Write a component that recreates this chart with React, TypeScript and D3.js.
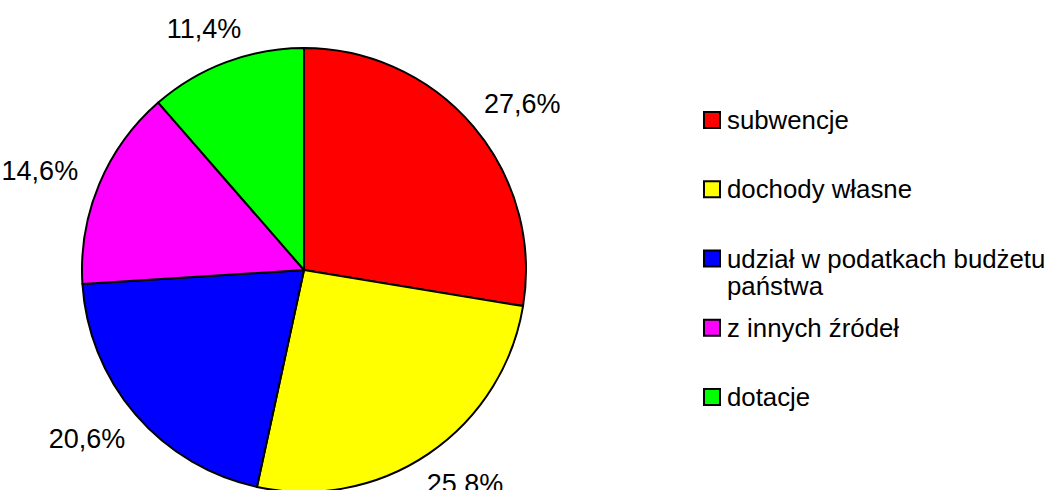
import { useEffect, useRef } from "react";
import * as d3 from "d3";

const categories = ["subwencje", "dochody własne", "udział w podatkach budżetu państwa", "z innych źródeł", "dotacje"];
const legendLines = [["subwencje"], ["dochody własne"], ["udział w podatkach budżetu", "państwa"], ["z innych źródeł"], ["dotacje"]];
const values = [27.6, 25.8, 20.6, 14.6, 11.4];
const labels = ["27,6%", "25,8%", "20,6%", "14,6%", "11,4%"];
const colors = ["#ff0000", "#ffff00", "#0000ff", "#ff00ff", "#00ff00"];

export default function App() {
  const ref = useRef<HTMLDivElement>(null);

  useEffect(() => {
    const container = d3.select(ref.current);
    container.selectAll("*").remove();

    const width = 1048;
    const height = 490;
    const cx = 304;
    const cy = 270;
    const r = 222;
    const labelR = 248;
    const font = "'Liberation Sans', Arial, sans-serif";

    const svg = container
      .append("svg")
      .attr("width", width)
      .attr("height", height)
      .style("position", "absolute")
      .style("left", "0px")
      .style("top", "0px")
      .style("background", "#fff");

    const pie = d3.pie<number>().sort(null).value((d) => d);
    const arcs = pie(values);
    const arc = d3.arc<d3.PieArcDatum<number>>().innerRadius(0).outerRadius(r);

    const g = svg.append("g").attr("transform", `translate(${cx},${cy})`);
    g.selectAll("path")
      .data(arcs)
      .join("path")
      .attr("d", arc)
      .attr("fill", (_, i) => colors[i])
      .attr("stroke", "#000")
      .attr("stroke-width", 2)
      .attr("stroke-linejoin", "round");

    // labels: anchor point just outside the pie, text box pushed outward
    g.selectAll("text")
      .data(arcs)
      .join("text")
      .attr("text-anchor", "middle")
      .attr("dy", "0.35em")
      .attr("font-family", font)
      .attr("font-size", 27)
      .attr("fill", "#000")
      .text((_, i) => labels[i])
      .each(function (d) {
        const el = this as SVGTextElement;
        const w = el.getComputedTextLength();
        const h = 20;
        const a = (d.startAngle + d.endAngle) / 2;
        const sx = Math.sin(a);
        const sy = -Math.cos(a);
        const x = sx * labelR + (sx * w) / 2;
        const y = sy * labelR + (sy * h) / 2;
        d3.select(el).attr("x", x).attr("y", y);
      });

    const legendY = d3.scalePoint<string>().domain(categories).range([129, 406]);
    const leg = svg.append("g");
    categories.forEach((c, i) => {
      const base = legendY(c)!;
      leg
        .append("rect")
        .attr("x", 704)
        .attr("y", base - 17)
        .attr("width", 16)
        .attr("height", 16)
        .attr("fill", colors[i])
        .attr("stroke", "#000")
        .attr("stroke-width", 2);
      const t = leg
        .append("text")
        .attr("x", 727)
        .attr("y", base)
        .attr("font-family", font)
        .attr("font-size", 25.8)
        .attr("fill", "#000");
      legendLines[i].forEach((line, j) => {
        t.append("tspan").attr("x", 727).attr("dy", j === 0 ? 0 : 27).text(line);
      });
    });
  }, []);

  return <div ref={ref} />;
}
